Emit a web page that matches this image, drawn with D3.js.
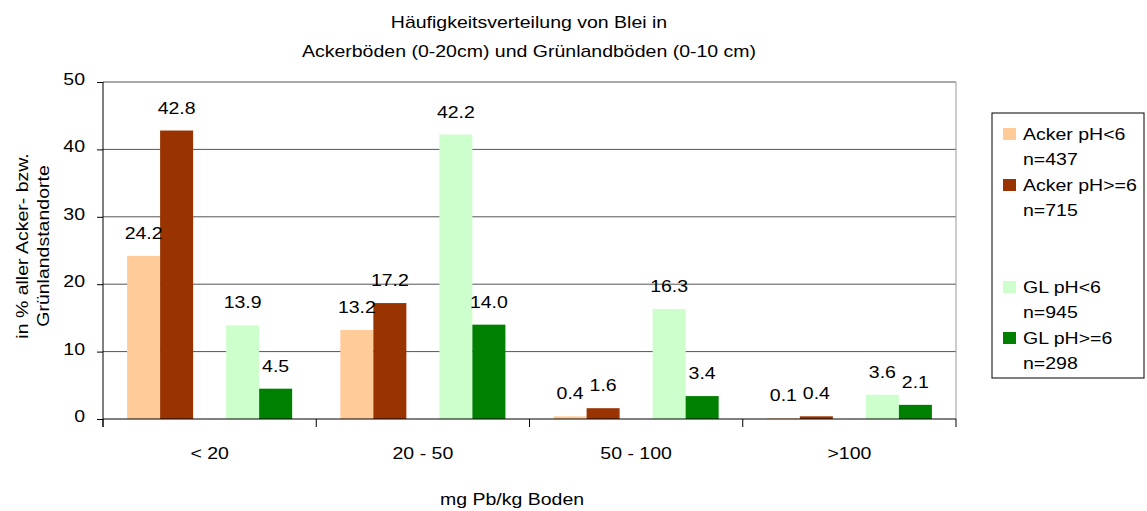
<!DOCTYPE html>
<html>
<head>
<meta charset="utf-8">
<script src="https://cdn.jsdelivr.net/npm/d3@7"></script>
<style>
  body { margin: 0; background: #fff; }
  text { font-family: "Liberation Sans", Arial, sans-serif; font-size: 16px; fill: #000; }
</style>
</head>
<body>
<div id="chart-area"></div>
<script>
// data
const categories = ["< 20", "20 - 50", "50 - 100", ">100"]
const seriesNames = ["Acker pH<6", "Acker pH>=6", "", "GL pH<6", "GL pH>=6"]
const seriesN = ["n=437", "n=715", "", "n=945", "n=298"]
const ackerSauer = [24.2, 13.2, 0.4, 0.1]
const ackerBasisch = [42.8, 17.2, 1.6, 0.4]
const leer = [null, null, null, null]
const glSauer = [13.9, 42.2, 16.3, 3.6]
const glBasisch = [4.5, 14.0, 3.4, 2.1]
const seriesColors = ["#FFCC99", "#993300", "none", "#CCFFCC", "#008000"]
const yTicks = [0, 10, 20, 30, 40, 50]

const values = [ackerSauer, ackerBasisch, leer, glSauer, glBasisch]

const WIDTH = 1147, HEIGHT = 511
const PLOT = { LEFT: 103, RIGHT: 956, TOP: 82, BOTTOM: 419 }
// the original text is a bit stretched sideways
const SX = 1.22

const svg = d3.select("#chart-area").append("svg")
  .attr("width", WIDTH)
  .attr("height", HEIGHT)

function label(parent, x, y, s, anchor) {
  return parent.append("text")
    .attr("transform", `translate(${x},${y}) scale(${SX},1)`)
    .attr("text-anchor", anchor || "middle")
    .text(s)
}

// Scales
const x = d3.scaleBand()
  .domain(categories)
  .range([PLOT.LEFT, PLOT.RIGHT])
  .padding(0)

const xInner = d3.scaleBand()
  .domain(d3.range(seriesNames.length))
  .range([0, x.bandwidth()])
  .paddingInner(0)
  .paddingOuter(0.73)

const y = d3.scaleLinear()
  .domain([0, 50])
  .range([PLOT.BOTTOM, PLOT.TOP])

// Gridlines
svg.append("g")
  .selectAll("line")
  .data(yTicks.filter(d => d > 0))
  .enter().append("line")
    .attr("x1", PLOT.LEFT)
    .attr("x2", PLOT.RIGHT)
    .attr("y1", d => y(d))
    .attr("y2", d => y(d))
    .attr("stroke", "#555")
    .attr("stroke-width", 1)

// right border of plot area
svg.append("line")
  .attr("x1", PLOT.RIGHT).attr("x2", PLOT.RIGHT)
  .attr("y1", PLOT.TOP).attr("y2", PLOT.BOTTOM)
  .attr("stroke", "#999")

// Bars
const groups = svg.append("g")
  .selectAll("g")
  .data(values)
  .enter().append("g")
    .attr("fill", (d, i) => seriesColors[i])

groups.selectAll("rect")
  .data((d, i) => d.map((v, j) => ({ s: i, c: categories[j], v: v })).filter(e => e.v !== null))
  .enter().append("rect")
    .attr("x", d => x(d.c) + xInner(d.s))
    .attr("width", xInner.bandwidth())
    .attr("y", d => y(d.v))
    .attr("height", d => y(0) - y(d.v))

// value labels
const valLabels = svg.append("g")
values.forEach((arr, i) => {
  arr.forEach((v, j) => {
    if (v === null) return
    label(valLabels, x(categories[j]) + xInner(i) + xInner.bandwidth() / 2, y(v) - 17, v.toFixed(1))
  })
})

// Y Axis
const yAxisCall = d3.axisLeft(y)
  .tickValues(yTicks)
  .tickSize(6)
  .tickSizeOuter(0)
const yAxis = svg.append("g")
  .attr("transform", `translate(${PLOT.LEFT},0)`)
  .call(yAxisCall)
yAxis.select(".domain").remove()
yAxis.selectAll(".tick line").attr("stroke", "#000")
yAxis.selectAll(".tick text")
  .attr("x", null)
  .attr("dy", null)
  .attr("font-size", 16)
  .attr("font-family", '"Liberation Sans", Arial, sans-serif')
  .attr("transform", `translate(-18,2.5) scale(${SX},1)`)

// axis lines
svg.append("line")
  .attr("x1", PLOT.LEFT).attr("x2", PLOT.LEFT)
  .attr("y1", PLOT.TOP).attr("y2", PLOT.BOTTOM + 8)
  .attr("stroke", "#000")
svg.append("line")
  .attr("x1", PLOT.LEFT).attr("x2", PLOT.RIGHT)
  .attr("y1", PLOT.BOTTOM).attr("y2", PLOT.BOTTOM)
  .attr("stroke", "#000")

// X Axis: category labels
const xAxisCall = d3.axisBottom(x).tickSize(0).tickSizeOuter(0)
const xAxis = svg.append("g")
  .attr("transform", `translate(0,${PLOT.BOTTOM})`)
  .call(xAxisCall)
xAxis.select(".domain").remove()
xAxis.selectAll(".tick text")
  .attr("y", null)
  .attr("dy", null)
  .attr("font-size", 16)
  .attr("font-family", '"Liberation Sans", Arial, sans-serif')
  .attr("transform", `translate(0,40) scale(${SX},1)`)

// boundary ticks between categories
svg.append("g")
  .selectAll("line")
  .data(categories.map(c => x(c)).concat([x.range()[1]]))
  .enter().append("line")
    .attr("x1", d => d).attr("x2", d => d)
    .attr("y1", PLOT.BOTTOM).attr("y2", PLOT.BOTTOM + 8)
    .attr("stroke", "#000")

// Titles
label(svg, 529, 28, "Häufigkeitsverteilung von Blei in")
label(svg, 529, 57, "Ackerböden (0-20cm) und Grünlandböden (0-10 cm)")
label(svg, 512, 505, "mg Pb/kg Boden")

svg.append("text")
  .attr("transform", `translate(28,246) rotate(-90) scale(${SX},1)`)
  .attr("text-anchor", "middle")
  .text("in % aller Acker- bzw.")
svg.append("text")
  .attr("transform", `translate(49,246) rotate(-90) scale(${SX},1)`)
  .attr("text-anchor", "middle")
  .text("Grünlandstandorte")

// Legend
const legend = svg.append("g").attr("class", "legend")
legend.append("rect")
  .attr("x", 992).attr("y", 113)
  .attr("width", 152).attr("height", 265)
  .attr("fill", "#fff")
  .attr("stroke", "#000")

seriesNames.forEach((name, i) => {
  if (name === "") return
  const base = 140 + i * 51
  legend.append("rect")
    .attr("x", 1003).attr("y", base - 12)
    .attr("width", 13).attr("height", 12)
    .attr("fill", seriesColors[i])
  label(legend, 1023, base, name, "start")
  label(legend, 1023, base + 25, seriesN[i], "start")
})
</script>
</body>
</html>
